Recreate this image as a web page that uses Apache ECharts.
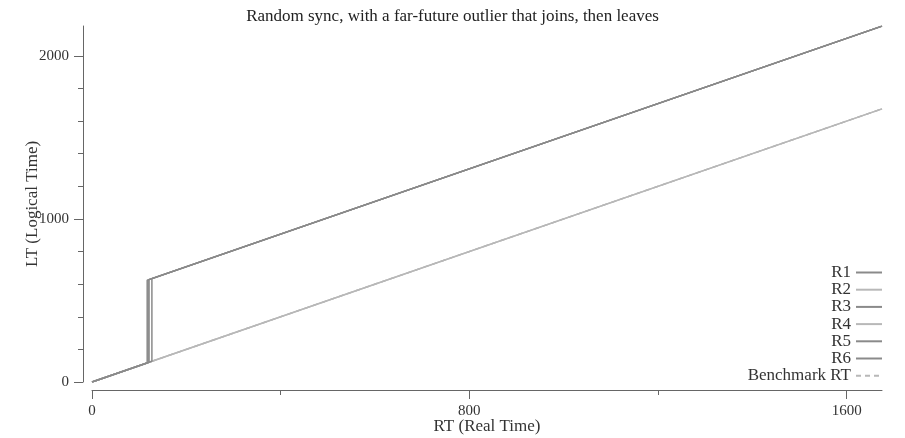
<!DOCTYPE html>
<html>
<head>
<meta charset="utf-8">
<script src="https://cdn.jsdelivr.net/npm/echarts@6/dist/echarts.min.js"></script>
<style>html,body{margin:0;padding:0;background:#fff}#c{width:905px;height:438px}</style>
</head>
<body>
<div id="c"></div>
<script>
// Data
const replicas = ['R1', 'R2', 'R3', 'R4', 'R5', 'R6'];
const rtEnd = 1675;
// RT at which each replica jumps to the outlier's far-future time (null = never jumps)
const jumpRT = [117, null, 119, null, 121, 127];
const outlierLead = 507;
const xMajorTicks = [0, 800, 1600];
const xMinorTicks = [400, 1200];
const yMajorTicks = [0, 1000, 2000];
const yMinorTicks = [200, 400, 600, 800, 1200, 1400, 1600, 1800];
const benchmark = [[0, 0], [rtEnd, rtEnd]];

const darkC = '#8a8a8a', lightC = '#b8b8b8';
const colors = [darkC, lightC, darkC, lightC, darkC, darkC];

function replicaData(j) {
  if (j === null) return [[0, 0], [rtEnd, rtEnd]];
  return [[0, 0], [j, j], [j, j + outlierLead], [rtEnd, rtEnd + outlierLead]];
}

const font = 'Liberation Serif';
const series = replicas.map((name, i) => ({
  name, type: 'line', xAxisIndex: 0, yAxisIndex: 0,
  data: replicaData(jumpRT[i]), symbol: 'none', showSymbol: false, animation: false,
  lineStyle: {color: colors[i], width: 1.5}, itemStyle: {color: colors[i]}
}));
series.unshift({
  name: 'Benchmark RT', type: 'line', xAxisIndex: 0, yAxisIndex: 0,
  data: benchmark, symbol: 'none', showSymbol: false, animation: false, z: 1,
  lineStyle: {color: lightC, width: 1.5, type: [5, 4]}, itemStyle: {color: lightC}
});

const axisCol = '#666';
const chart = echarts.init(document.getElementById('c'), null, {renderer: 'canvas'});
chart.setOption({
  animation: false,
  title: {text: 'Random sync, with a far-future outlier that joins, then leaves', left: 'center', top: 3,
    textStyle: {fontFamily: font, fontSize: 17, fontWeight: 'normal', color: '#222'}},
  grid: {left: 92, right: 23, top: 26, bottom: 56, containLabel: false, outerBoundsMode: 'none'},
  legend: {
    data: replicas.concat(['Benchmark RT']),
    orient: 'vertical', right: 22, top: 264, align: 'right', padding: 0,
    itemWidth: 26, itemHeight: 10, itemGap: 0.2,
    itemStyle: {opacity: 0},
    textStyle: {fontFamily: font, fontSize: 17, color: '#333', padding: [0, 0, 0, 0]},
    selectedMode: false
  },
  xAxis: [{
    type: 'value', min: 0, max: rtEnd, offset: 8,
    name: 'RT (Real Time)', nameLocation: 'middle', nameGap: 28, nameMoveOverlap: false,
    nameTextStyle: {fontFamily: font, fontSize: 17, color: '#333'},
    axisLine: {show: true, onZero: false, lineStyle: {color: axisCol}},
    axisTick: {show: true, customValues: xMajorTicks, length: 9, lineStyle: {color: axisCol}},
    axisLabel: {customValues: xMajorTicks, formatter: v => String(v), fontFamily: font, fontSize: 15, color: '#333', margin: 14},
    splitLine: {show: false}
  }, {
    type: 'value', min: 0, max: rtEnd, offset: 8, position: 'bottom',
    axisLine: {show: false, onZero: false},
    axisTick: {show: true, customValues: xMinorTicks, length: 5, lineStyle: {color: axisCol}},
    axisLabel: {show: false}, splitLine: {show: false}
  }],
  yAxis: [{
    type: 'value', min: 0, max: 2183, offset: 9,
    name: 'LT (Logical Time)', nameLocation: 'middle', nameGap: 42, nameRotate: 90, nameMoveOverlap: false,
    nameTextStyle: {fontFamily: font, fontSize: 17, color: '#333'},
    axisLine: {show: true, onZero: false, lineStyle: {color: axisCol}},
    axisTick: {show: true, customValues: yMajorTicks, length: 9, lineStyle: {color: axisCol}},
    axisLabel: {customValues: yMajorTicks, formatter: v => String(v), fontFamily: font, fontSize: 15, color: '#333', margin: 14},
    splitLine: {show: false}
  }, {
    type: 'value', min: 0, max: 2183, offset: 9, position: 'left',
    axisLine: {show: false, onZero: false},
    axisTick: {show: true, customValues: yMinorTicks, length: 5, lineStyle: {color: axisCol}},
    axisLabel: {show: false}, splitLine: {show: false}
  }],
  series
});
</script>
</body>
</html>
